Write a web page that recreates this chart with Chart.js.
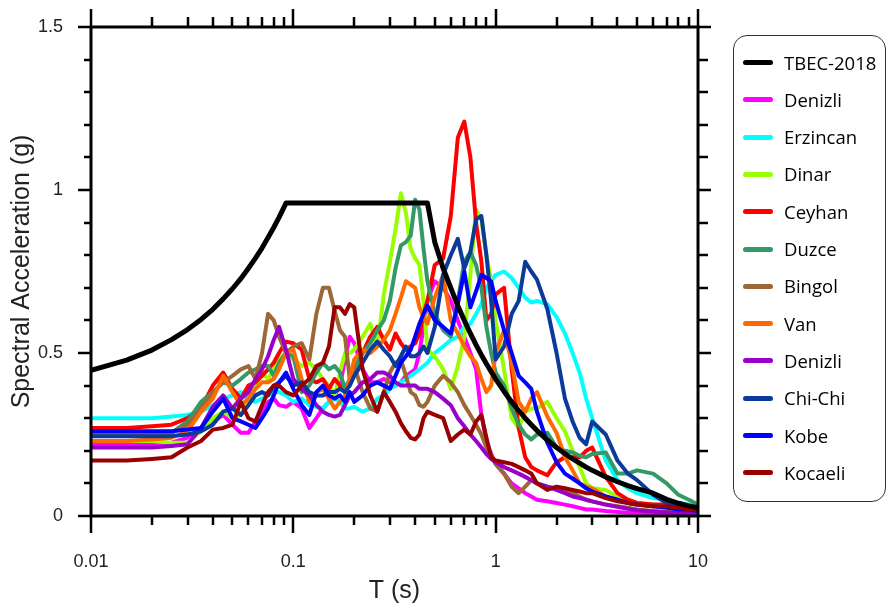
<!DOCTYPE html>
<html>
<head>
<meta charset="utf-8">
<title>Spectral Acceleration</title>
<script src="https://cdn.jsdelivr.net/npm/chart.js@4.4.1/dist/chart.umd.min.js"></script>
<style>
  html, body { margin: 0; padding: 0; background: #fff; }
  #wrap { position: relative; width: 894px; height: 613px; overflow: hidden; }
  #spectra { position: absolute; left: 0; top: 0; }
  #legend {
    position: absolute; left: 733px; top: 35px; width: 153px; height: 467px;
    box-sizing: border-box; border: 1.5px solid #333; border-radius: 14px;
    font-family: 'Open Sans', sans-serif; font-size: 18.5px; color: #000;
  }
  #legend .item { position: absolute; left: 0; height: 26px; width: 150px; }
  #legend .swatch { position: absolute; left: 9px; top: 10.5px; width: 30px; height: 5px; border-radius: 2.5px; }
  #legend .name { position: absolute; left: 50px; top: 0; line-height: 26px; white-space: nowrap; }
</style>
</head>
<body>
<div id="wrap">
  <canvas id="spectra" width="894" height="613"></canvas>
  <div id="legend"></div>
</div>
<script>
// periods (s)
const periods = [0.01, 0.015, 0.02, 0.025, 0.03, 0.035, 0.04, 0.045, 0.05, 0.055,
  0.06, 0.065, 0.07, 0.075, 0.08, 0.085, 0.092, 0.1, 0.11, 0.12,
  0.13, 0.14, 0.15, 0.16, 0.17, 0.18, 0.19, 0.2, 0.22, 0.24,
  0.26, 0.28, 0.3, 0.32, 0.34, 0.36, 0.38, 0.4, 0.42, 0.44,
  0.46, 0.5, 0.55, 0.6, 0.65, 0.7, 0.75, 0.8, 0.85, 0.9,
  0.95, 1.0, 1.1, 1.2, 1.3, 1.4, 1.5, 1.6, 1.8, 2.0,
  2.2, 2.4, 2.6, 2.8, 3.0, 3.5, 4, 4.5, 5, 6,
  7, 8, 9, 10];

const tbec2018 = [0.447, 0.478, 0.509, 0.541, 0.572, 0.603, 0.634, 0.666, 0.697, 0.728,
  0.760, 0.791, 0.822, 0.854, 0.885, 0.916, 0.96, 0.96, 0.96, 0.96,
  0.96, 0.96, 0.96, 0.96, 0.96, 0.96, 0.96, 0.96, 0.96, 0.96,
  0.96, 0.96, 0.96, 0.96, 0.96, 0.96, 0.96, 0.96, 0.96, 0.96,
  0.96, 0.84, 0.76, 0.70, 0.645, 0.60, 0.56, 0.525, 0.494, 0.467,
  0.443, 0.42, 0.382, 0.35, 0.323, 0.30, 0.28, 0.262, 0.233, 0.21,
  0.191, 0.175, 0.162, 0.15, 0.14, 0.12, 0.105, 0.093, 0.084, 0.07,
  0.051, 0.039, 0.031, 0.025];

const denizliA = [0.22, 0.22, 0.22, 0.225, 0.24, 0.27, 0.29, 0.31, 0.28, 0.255,
  0.255, 0.29, 0.32, 0.35, 0.36, 0.34, 0.335, 0.35, 0.33, 0.27,
  0.30, 0.33, 0.35, 0.37, 0.40, 0.48, 0.55, 0.53, 0.45, 0.41,
  0.41, 0.42, 0.41, 0.40, 0.41, 0.43, 0.44, 0.45, 0.50, 0.58,
  0.66, 0.72, 0.70, 0.66, 0.60, 0.55, 0.50, 0.45, 0.31, 0.23,
  0.19, 0.16, 0.13, 0.10, 0.085, 0.07, 0.06, 0.05, 0.045, 0.04,
  0.035, 0.03, 0.025, 0.02, 0.02, 0.015, 0.012, 0.01, 0.01, 0.008,
  0.006, 0.005, 0.005, 0.004];

const erzincan = [0.30, 0.30, 0.30, 0.305, 0.31, 0.32, 0.34, 0.36, 0.37, 0.38,
  0.36, 0.35, 0.36, 0.37, 0.38, 0.38, 0.37, 0.35, 0.36, 0.34,
  0.335, 0.33, 0.35, 0.36, 0.35, 0.33, 0.33, 0.335, 0.32, 0.33,
  0.36, 0.37, 0.39, 0.40, 0.41, 0.42, 0.43, 0.44, 0.45, 0.46,
  0.47, 0.50, 0.52, 0.54, 0.55, 0.58, 0.59, 0.62, 0.65, 0.70,
  0.72, 0.74, 0.75, 0.73, 0.70, 0.67, 0.655, 0.66, 0.65, 0.61,
  0.56, 0.50, 0.44, 0.36, 0.30, 0.17, 0.11, 0.085, 0.07, 0.055,
  0.05, 0.04, 0.035, 0.03];

const dinar = [0.23, 0.23, 0.23, 0.225, 0.225, 0.26, 0.30, 0.32, 0.30, 0.31,
  0.36, 0.40, 0.44, 0.42, 0.45, 0.48, 0.50, 0.48, 0.46, 0.47,
  0.45, 0.42, 0.40, 0.37, 0.44, 0.50, 0.50, 0.51, 0.55, 0.59,
  0.52, 0.68, 0.78, 0.88, 0.99, 0.93, 0.82, 0.79, 0.77, 0.66,
  0.51, 0.49, 0.45, 0.39, 0.46, 0.55, 0.74, 0.94, 0.91, 0.80,
  0.72, 0.60, 0.45, 0.30, 0.27, 0.32, 0.33, 0.33, 0.35, 0.30,
  0.26, 0.20, 0.15, 0.10, 0.085, 0.08, 0.06, 0.05, 0.04, 0.035,
  0.03, 0.025, 0.02, 0.015];

const ceyhan = [0.27, 0.27, 0.275, 0.28, 0.30, 0.33, 0.40, 0.44, 0.39, 0.36,
  0.40, 0.41, 0.43, 0.45, 0.47, 0.50, 0.535, 0.53, 0.51, 0.42,
  0.41, 0.42, 0.39, 0.42, 0.40, 0.38, 0.42, 0.45, 0.50, 0.55,
  0.58, 0.54, 0.51, 0.56, 0.53, 0.51, 0.52, 0.53, 0.56, 0.62,
  0.66, 0.77, 0.79, 0.92, 1.16, 1.21, 1.10, 0.90, 0.78, 0.60,
  0.62, 0.68, 0.70, 0.45, 0.27, 0.18, 0.15, 0.14, 0.125, 0.165,
  0.18, 0.18, 0.18, 0.20, 0.21, 0.12, 0.07, 0.05, 0.04, 0.035,
  0.035, 0.03, 0.025, 0.02];

const duzce = [0.25, 0.25, 0.25, 0.255, 0.29, 0.35, 0.38, 0.41, 0.40, 0.42,
  0.44, 0.45, 0.46, 0.46, 0.43, 0.47, 0.50, 0.49, 0.38, 0.40,
  0.44, 0.47, 0.45, 0.46, 0.44, 0.39, 0.42, 0.45, 0.50, 0.53,
  0.57, 0.60, 0.66, 0.76, 0.83, 0.84, 0.86, 0.97, 0.94, 0.82,
  0.72, 0.62, 0.57, 0.55, 0.66, 0.78, 0.81, 0.77, 0.70, 0.58,
  0.50, 0.44, 0.40, 0.33, 0.28, 0.25, 0.235, 0.25, 0.255, 0.21,
  0.20, 0.195, 0.185, 0.18, 0.19, 0.195, 0.13, 0.13, 0.14, 0.13,
  0.10, 0.065, 0.05, 0.035];

const bingol = [0.25, 0.25, 0.25, 0.255, 0.28, 0.33, 0.38, 0.41, 0.43, 0.45,
  0.46, 0.42, 0.50, 0.62, 0.60, 0.55, 0.50, 0.52, 0.53, 0.48,
  0.62, 0.70, 0.70, 0.63, 0.57, 0.55, 0.42, 0.46, 0.38, 0.33,
  0.32, 0.38, 0.44, 0.47, 0.48, 0.43, 0.38, 0.37, 0.34, 0.335,
  0.35, 0.40, 0.43, 0.41, 0.38, 0.34, 0.31, 0.28, 0.25, 0.21,
  0.19, 0.16, 0.13, 0.09, 0.07, 0.09, 0.11, 0.10, 0.09, 0.085,
  0.08, 0.07, 0.06, 0.05, 0.045, 0.035, 0.03, 0.025, 0.02, 0.015,
  0.012, 0.01, 0.01, 0.01];

const van = [0.23, 0.23, 0.235, 0.24, 0.26, 0.32, 0.36, 0.43, 0.38, 0.34,
  0.36, 0.39, 0.41, 0.41, 0.42, 0.45, 0.50, 0.51, 0.42, 0.35,
  0.38, 0.39, 0.36, 0.33, 0.35, 0.37, 0.42, 0.48, 0.51, 0.50,
  0.52, 0.54, 0.57, 0.62, 0.67, 0.72, 0.71, 0.70, 0.64, 0.61,
  0.59, 0.67, 0.74, 0.60, 0.56, 0.52, 0.49, 0.47, 0.42, 0.38,
  0.40, 0.50, 0.57, 0.47, 0.35, 0.32, 0.36, 0.38, 0.305, 0.255,
  0.18, 0.14, 0.10, 0.09, 0.085, 0.06, 0.05, 0.04, 0.035, 0.03,
  0.03, 0.025, 0.025, 0.025];

const denizliB = [0.21, 0.21, 0.21, 0.215, 0.22, 0.27, 0.335, 0.37, 0.33, 0.36,
  0.38, 0.42, 0.45, 0.49, 0.54, 0.58, 0.51, 0.42, 0.39, 0.37,
  0.34, 0.32, 0.31, 0.305, 0.31, 0.34, 0.37, 0.38, 0.41, 0.42,
  0.44, 0.44, 0.43, 0.41, 0.40, 0.40, 0.40, 0.40, 0.39, 0.39,
  0.39, 0.38, 0.36, 0.34, 0.30, 0.275, 0.25, 0.23, 0.21, 0.19,
  0.175, 0.165, 0.15, 0.14, 0.13, 0.12, 0.11, 0.10, 0.09, 0.08,
  0.07, 0.06, 0.055, 0.05, 0.045, 0.035, 0.028, 0.022, 0.018, 0.014,
  0.011, 0.009, 0.008, 0.007];

const chiChi = [0.245, 0.245, 0.245, 0.245, 0.25, 0.26, 0.28, 0.32, 0.33, 0.31,
  0.34, 0.37, 0.38, 0.37, 0.40, 0.41, 0.43, 0.40, 0.41, 0.38,
  0.37, 0.37, 0.38, 0.38, 0.39, 0.38, 0.40, 0.43, 0.47, 0.51,
  0.535, 0.51, 0.49, 0.46, 0.49, 0.52, 0.49, 0.49, 0.50, 0.52,
  0.50, 0.58, 0.74, 0.80, 0.85, 0.76, 0.81, 0.91, 0.92, 0.80,
  0.66, 0.48, 0.52, 0.62, 0.66, 0.78, 0.75, 0.725, 0.635, 0.50,
  0.36, 0.29, 0.24, 0.22, 0.29, 0.25, 0.17, 0.13, 0.11, 0.065,
  0.04, 0.03, 0.025, 0.02];

const kobe = [0.26, 0.26, 0.26, 0.26, 0.265, 0.27, 0.32, 0.36, 0.30, 0.29,
  0.28, 0.27, 0.30, 0.33, 0.37, 0.41, 0.44, 0.39, 0.34, 0.31,
  0.38, 0.40, 0.37, 0.36, 0.37, 0.35, 0.38, 0.35, 0.37, 0.40,
  0.41, 0.40, 0.39, 0.43, 0.47, 0.49, 0.51, 0.55, 0.59, 0.62,
  0.645, 0.60, 0.58, 0.56, 0.65, 0.75, 0.64, 0.69, 0.74, 0.73,
  0.72, 0.66, 0.57, 0.50, 0.43, 0.41, 0.39, 0.32, 0.225, 0.165,
  0.13, 0.115, 0.10, 0.085, 0.075, 0.06, 0.05, 0.04, 0.035, 0.03,
  0.025, 0.02, 0.02, 0.015];

const kocaeli = [0.17, 0.17, 0.175, 0.18, 0.21, 0.23, 0.265, 0.27, 0.28, 0.35,
  0.30, 0.29, 0.34, 0.38, 0.40, 0.40, 0.38, 0.37, 0.40, 0.42,
  0.46, 0.47, 0.52, 0.64, 0.64, 0.62, 0.65, 0.64, 0.45, 0.37,
  0.32, 0.38, 0.35, 0.32, 0.285, 0.26, 0.24, 0.235, 0.25, 0.30,
  0.32, 0.31, 0.30, 0.23, 0.25, 0.265, 0.25, 0.29, 0.31, 0.24,
  0.18, 0.17, 0.165, 0.16, 0.15, 0.14, 0.13, 0.10, 0.08, 0.09,
  0.085, 0.08, 0.075, 0.07, 0.07, 0.055, 0.045, 0.04, 0.035, 0.03,
  0.03, 0.025, 0.02, 0.02];

const seriesNames = ['TBEC-2018', 'Denizli', 'Erzincan', 'Dinar', 'Ceyhan', 'Duzce',
  'Bingol', 'Van', 'Denizli', 'Chi-Chi', 'Kobe', 'Kocaeli'];
const seriesValues = [tbec2018, denizliA, erzincan, dinar, ceyhan, duzce,
  bingol, van, denizliB, chiChi, kobe, kocaeli];
const seriesColors = ['#000000', '#ff00ff', '#00ffff', '#99ff00', '#ff0000', '#339966',
  '#9c6836', '#ff6a00', '#9900cc', '#0b3a9a', '#0000ff', '#990000'];

// axis ticks
const xTickValues = [0.01, 0.02, 0.03, 0.04, 0.05, 0.06, 0.07, 0.08, 0.09,
  0.1, 0.2, 0.3, 0.4, 0.5, 0.6, 0.7, 0.8, 0.9,
  1, 2, 3, 4, 5, 6, 7, 8, 9, 10];
const xMajorTicks = [0.01, 0.1, 1, 10];
const yMajorTicks = [0, 0.5, 1, 1.5];

function isYMajor(v) {
  return yMajorTicks.some(m => Math.abs(m - v) < 1e-6);
}

// frame + outward tick marks (long on labelled ticks)
const frameTicks = {
  id: 'frameTicks',
  afterDatasetsDraw(chart) {
    const { ctx, chartArea: a, scales: { x, y } } = chart;
    ctx.save();
    ctx.strokeStyle = '#000';
    ctx.lineWidth = 2.5;
    ctx.beginPath();
    x.ticks.forEach(t => {
      const px = Math.round(x.getPixelForValue(t.value));
      const big = xMajorTicks.includes(t.value);
      ctx.moveTo(px, a.bottom);
      ctx.lineTo(px, a.bottom + (big ? 17 : 9));
      ctx.moveTo(px, a.top);
      ctx.lineTo(px, a.top - (big ? 18 : 10));
    });
    y.ticks.forEach(t => {
      const py = Math.round(y.getPixelForValue(t.value));
      const big = isYMajor(t.value);
      ctx.moveTo(a.left, py);
      ctx.lineTo(a.left - (big ? 13 : 7), py);
      ctx.moveTo(a.right, py);
      ctx.lineTo(a.right + (big ? 13 : 10), py);
    });
    ctx.stroke();
    ctx.lineWidth = 3;
    ctx.strokeRect(a.left, a.top, a.right - a.left, a.bottom - a.top);
    ctx.restore();
  }
};

const datasets = seriesValues.map((vals, i) => ({
  label: seriesNames[i],
  data: periods.map((t, k) => ({ x: t, y: vals[k] })),
  borderColor: seriesColors[i],
  backgroundColor: seriesColors[i],
  borderWidth: i === 0 ? 5 : 4,
  pointRadius: 0,
  tension: 0,
  borderJoinStyle: 'round',
  fill: false,
  order: i === 0 ? 0 : seriesValues.length - i
}));

const axisFont = { family: "'Liberation Sans', Arial, sans-serif", size: 18 };
const titleFont = { family: "'Liberation Sans', Arial, sans-serif", size: 25 };

new Chart(document.getElementById('spectra').getContext('2d'), {
  type: 'line',
  data: { datasets: datasets },
  options: {
    responsive: false,
    animation: false,
    events: [],
    layout: { padding: { top: 27, right: 196, left: 0, bottom: 0 } },
    scales: {
      x: {
        type: 'logarithmic',
        position: 'bottom',
        min: 0.01,
        max: 10,
        afterBuildTicks: scale => {
          scale.ticks = xTickValues.map(v => ({ value: v, major: xMajorTicks.includes(v) }));
        },
        afterFit: scale => {
          scale.height = 97;
          scale.paddingLeft = 0;
          scale.paddingRight = 0;
        },
        grid: { display: false },
        border: { display: false },
        ticks: {
          autoSkip: false,
          maxRotation: 0,
          minRotation: 0,
          padding: 27,
          color: '#222',
          font: axisFont,
          callback: v => xMajorTicks.includes(v) ? String(v) : ''
        },
        title: {
          display: true,
          text: 'T (s)',
          color: '#222',
          font: titleFont,
          padding: { top: 0, bottom: 7 }
        }
      },
      y: {
        type: 'linear',
        position: 'left',
        min: 0,
        max: 1.5,
        afterFit: scale => {
          scale.width = 91;
          scale.paddingTop = 0;
          scale.paddingBottom = 0;
        },
        grid: { display: false },
        border: { display: false },
        ticks: {
          stepSize: 0.1,
          autoSkip: false,
          padding: 20,
          color: '#222',
          font: axisFont,
          callback: v => isYMajor(v) ? String(Math.round(v * 10) / 10) : ''
        },
        title: {
          display: true,
          text: 'Spectral Acceleration (g)',
          color: '#222',
          font: titleFont,
          padding: { top: 7, bottom: 0 }
        }
      }
    },
    plugins: {
      legend: { display: false },
      tooltip: { enabled: false }
    }
  },
  plugins: [frameTicks]
});

// legend box on the right
const legendBox = document.getElementById('legend');
seriesNames.forEach((name, i) => {
  const item = document.createElement('div');
  item.className = 'item';
  item.style.top = (26.5 + 37.3 * i - 13) + 'px';
  const sw = document.createElement('div');
  sw.className = 'swatch';
  sw.style.background = seriesColors[i];
  const label = document.createElement('div');
  label.className = 'name';
  label.textContent = name;
  item.appendChild(sw);
  item.appendChild(label);
  legendBox.appendChild(item);
});
</script>
</body>
</html>
